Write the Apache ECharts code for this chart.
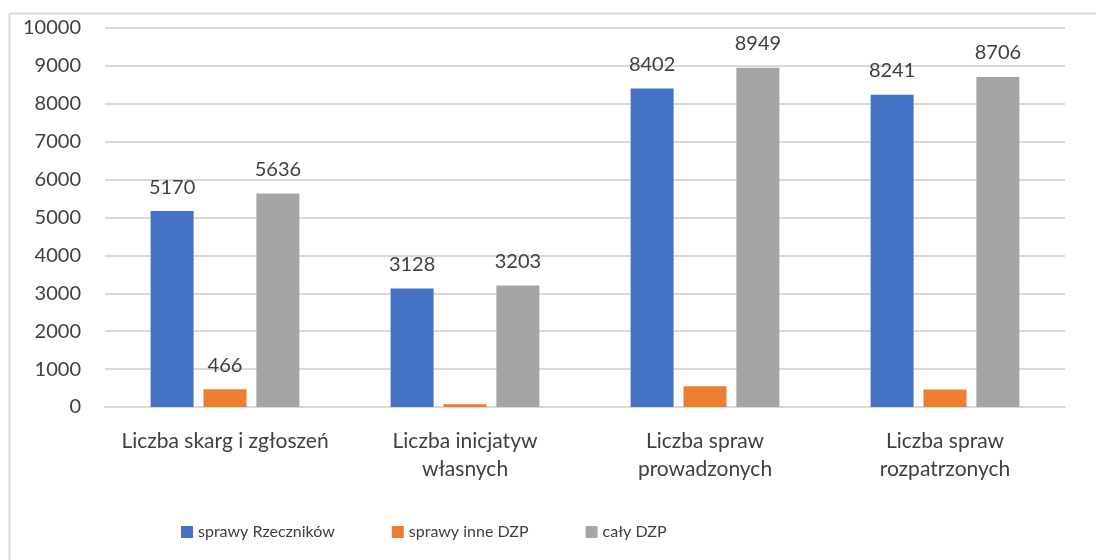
<!DOCTYPE html>
<html>
<head>
<meta charset="utf-8">
<script src="https://cdn.jsdelivr.net/npm/echarts@6/dist/echarts.min.js"></script>
<style>
  html, body { margin: 0; padding: 0; background: #fff; }
  #chart { width: 1096px; height: 560px; }
</style>
</head>
<body>
<div id="chart"></div>
<script>
const categories = ['Liczba skarg i zgłoszeń', 'Liczba inicjatyw\nwłasnych', 'Liczba spraw\nprowadzonych', 'Liczba spraw\nrozpatrzonych']
const rzecznicy = [5170, 3128, 8402, 8241]
const inneDzp = [466, 75, 547, 465]
const calyDzp = [5636, 3203, 8949, 8706]
// only the first orange bar has a visible label in the original
const inneLabelShown = [true, false, false, false]

const txt = '#404040'
const font = 'Lato, "Open Sans", sans-serif'

const myChart = echarts.init(document.getElementById('chart'))

const label = {
  show: true,
  position: 'top',
  distance: 14,
  fontSize: 20,
  fontFamily: font,
  color: txt,
}

const option = {
  animation: false,
  color: ['#4472C4', '#ED7D31', '#A5A5A5'],
  graphic: [
    { type: 'line', shape: { x1: 9.5, y1: 13.5, x2: 1096, y2: 13.5 }, style: { stroke: '#d9d9d9', lineWidth: 2 } },
    { type: 'line', shape: { x1: 9.5, y1: 13.5, x2: 9.5, y2: 560 }, style: { stroke: '#d9d9d9', lineWidth: 2 } },
  ],
  grid: {
    left: 105,
    right: 31,
    top: 28,
    bottom: 153,
  },
  legend: {
    left: 176,
    top: 519,
    icon: 'rect',
    itemWidth: 12,
    itemHeight: 12,
    itemGap: 57,
    textStyle: { fontSize: 16, fontFamily: font, color: txt },
    data: ['sprawy Rzeczników', 'sprawy inne DZP', 'cały DZP'],
  },
  xAxis: {
    type: 'category',
    data: categories,
    axisLine: { lineStyle: { color: '#d9d9d9', width: 2 } },
    axisTick: { show: false },
    axisLabel: {
      fontSize: 21,
      fontFamily: font,
      color: txt,
      margin: 20,
      lineHeight: 28,
      interval: 0,
    },
  },
  yAxis: {
    type: 'value',
    min: 0,
    max: 10000,
    interval: 1000,
    axisLine: { show: false },
    axisTick: { show: false },
    splitLine: { lineStyle: { color: '#d9d9d9', width: 2 } },
    axisLabel: {
      fontSize: 20,
      fontFamily: font,
      color: txt,
      margin: 24,
      formatter: (v) => String(v),
    },
  },
  series: [
    {
      type: 'bar',
      name: 'sprawy Rzeczników',
      barWidth: 43,
      barGap: '23%',
      data: rzecznicy,
      label: label,
    },
    {
      type: 'bar',
      name: 'sprawy inne DZP',
      barWidth: 43,
      barGap: '23%',
      data: inneDzp.map((v, i) => ({ value: v, label: { show: inneLabelShown[i] } })),
      label: label,
    },
    {
      type: 'bar',
      name: 'cały DZP',
      barWidth: 43,
      barGap: '23%',
      data: calyDzp,
      label: label,
    },
  ],
}

myChart.setOption(option)
</script>
</body>
</html>
